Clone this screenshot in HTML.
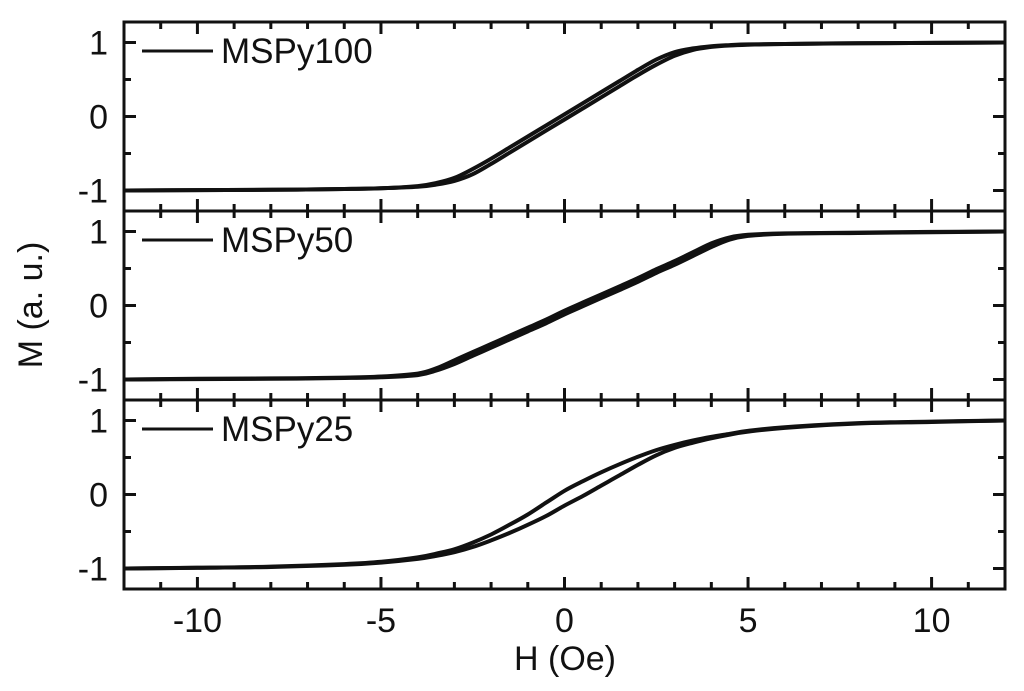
<!DOCTYPE html>
<html><head><meta charset="utf-8"><style>
html,body{margin:0;padding:0;background:#fff;width:1024px;height:691px;overflow:hidden}
svg text{font-family:"Liberation Sans",sans-serif;fill:#111}
</style></head><body>
<svg id="chart" width="1024" height="691"></svg>
<script>
const NS='http://www.w3.org/2000/svg';
const panelNames=['MSPy100','MSPy50','MSPy25'];
const hValues=[-12,-10,-8,-6,-5,-4,-3.5,-3,-2.5,-2,-1.5,-1,-0.5,0,0.5,1,1.5,2,2.5,3,3.5,4,4.5,5,6,8,10,12];
const m100Up=[-1,-0.995,-0.99,-0.98,-0.97,-0.95,-0.92,-0.87,-0.78,-0.64,-0.49,-0.34,-0.19,-0.04,0.11,0.26,0.41,0.56,0.7,0.82,0.9,0.94,0.96,0.97,0.98,0.99,0.995,1];
const m100Down=[-1,-0.995,-0.99,-0.98,-0.97,-0.94,-0.9,-0.83,-0.71,-0.57,-0.42,-0.27,-0.12,0.03,0.18,0.33,0.48,0.63,0.77,0.87,0.92,0.95,0.965,0.975,0.98,0.99,0.995,1];
const m50Up=[-1,-0.995,-0.99,-0.98,-0.97,-0.94,-0.88,-0.79,-0.68,-0.57,-0.46,-0.35,-0.24,-0.12,-0.01,0.1,0.21,0.32,0.44,0.55,0.67,0.79,0.89,0.94,0.97,0.98,0.99,1];
const m50Down=[-1,-0.99,-0.985,-0.975,-0.96,-0.92,-0.85,-0.74,-0.63,-0.52,-0.41,-0.3,-0.19,-0.07,0.04,0.15,0.26,0.37,0.49,0.6,0.72,0.84,0.92,0.955,0.975,0.985,0.995,1];
const m25Up=[-1,-0.99,-0.98,-0.95,-0.92,-0.87,-0.83,-0.78,-0.71,-0.62,-0.52,-0.41,-0.29,-0.15,-0.02,0.12,0.26,0.4,0.53,0.63,0.7,0.76,0.81,0.85,0.9,0.96,0.98,1];
const m25Down=[-1,-0.99,-0.975,-0.94,-0.91,-0.85,-0.8,-0.74,-0.65,-0.54,-0.41,-0.27,-0.11,0.05,0.18,0.3,0.41,0.51,0.6,0.67,0.73,0.78,0.82,0.86,0.91,0.965,0.985,1];
const series=[[m100Up,m100Down],[m50Up,m50Down],[m25Up,m25Down]];
const xTicks=[-10,-5,0,5,10];
const yTicks=[-1,0,1];

const svg=document.getElementById('chart');
const L=124,R=1005,panelTop=[22,211,400],panelH=189;
const xs=h=>L+(h+12)/24*(R-L);
function ys(p,m){return panelTop[p]+panelH/2-m*74;}
function el(t,a,parent){const e=document.createElementNS(NS,t);for(const k in a)e.setAttribute(k,a[k]);(parent||svg).appendChild(e);return e;}
function smooth(pts){
  let d='M'+pts[0][0].toFixed(1)+','+pts[0][1].toFixed(1);
  for(let i=0;i<pts.length-1;i++){
    const p0=pts[Math.max(0,i-1)],p1=pts[i],p2=pts[i+1],p3=pts[Math.min(pts.length-1,i+2)];
    const c1x=p1[0]+(p2[0]-p0[0])/6,c1y=p1[1]+(p2[1]-p0[1])/6;
    const c2x=p2[0]-(p3[0]-p1[0])/6,c2y=p2[1]-(p3[1]-p1[1])/6;
    d+=' C'+c1x.toFixed(1)+','+c1y.toFixed(1)+' '+c2x.toFixed(1)+','+c2y.toFixed(1)+' '+p2[0].toFixed(1)+','+p2[1].toFixed(1);
  }
  return d;
}

for(let p=0;p<3;p++){
  const g=el('g',{});
  
  
  const T=panelTop[p],B=T+panelH;
  const fr=el('rect',{x:L,y:T,width:R-L,height:panelH,fill:'none',stroke:'#111','stroke-width':3},g);
  
  
  for(let h=-11;h<=11;h++){
    const major=h%5===0, x=xs(h), len=major?12:7;
    el('line',{x1:x,y1:T,x2:x,y2:T+len,stroke:'#111','stroke-width':3},g);
    el('line',{x1:x,y1:B,x2:x,y2:B-len,stroke:'#111','stroke-width':3},g);
  }
  for(let m=-1;m<=1.01;m+=0.5){
    const y=ys(p,m),len=Math.abs(m%1)<0.01?12:7;
    el('line',{x1:L,y1:y,x2:L+len,y2:y,stroke:'#111','stroke-width':3},g);
    el('line',{x1:R,y1:y,x2:R-len,y2:y,stroke:'#111','stroke-width':3},g);
  }
  yTicks.forEach(v=>{
    const t=el('text',{x:108,y:ys(p,v)+12,'font-size':34,'text-anchor':'end'},g);
    t.textContent=String(v);
    
    
  });
  series[p].forEach((arr,i)=>{
    const pts=arr.map((m,k)=>[xs(hValues[k]),ys(p,m)]);
    const path=el('path',{d:smooth(pts),fill:'none',stroke:'#111','stroke-width':4,'stroke-linejoin':'round'},g);
    
    
  });
  const lg=el('g',{},g);
  
  
  el('line',{x1:142,y1:T+29,x2:213,y2:T+29,stroke:'#111','stroke-width':3},lg);
  const lt=el('text',{x:221,y:T+41,'font-size':35},lg);
  lt.textContent=panelNames[p];
}
xTicks.forEach(v=>{
  const t=el('text',{x:xs(v),y:632,'font-size':34,'text-anchor':'middle'});
  t.textContent=String(v);
  
  
});
const xt=el('text',{x:565,y:670,'font-size':34,'text-anchor':'middle'});
xt.textContent='H (Oe)';


const yt=el('text',{x:0,y:0,'font-size':34,'text-anchor':'middle',transform:'translate(42,305) rotate(-90)'});
yt.textContent='M (a. u.)';


</script>
</body></html>
